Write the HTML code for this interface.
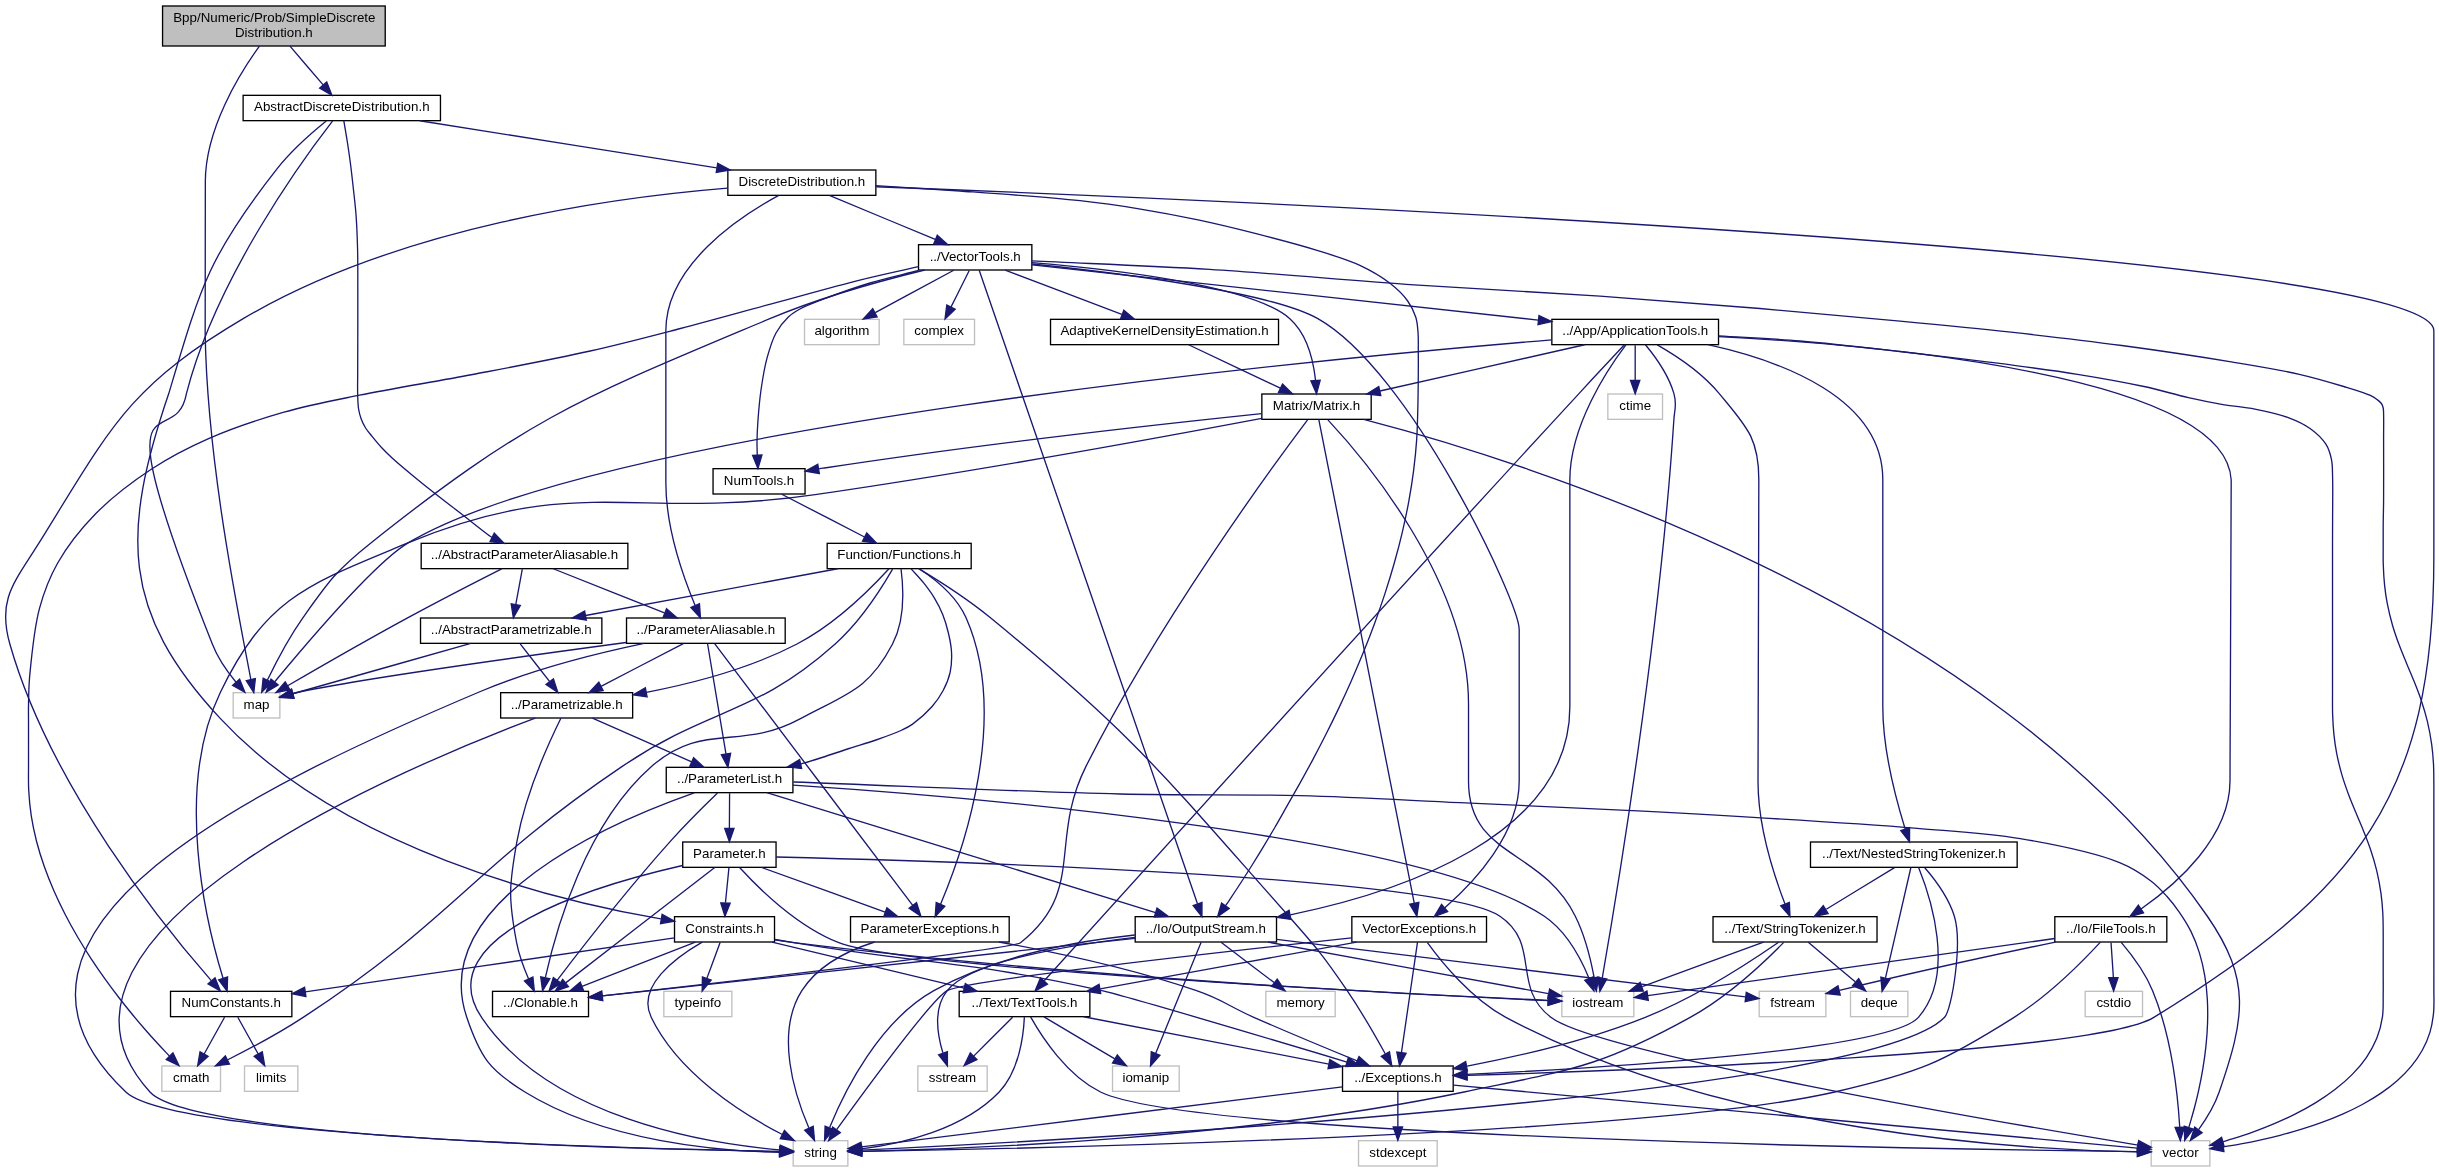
<!DOCTYPE html>
<html><head><meta charset="utf-8"><title>Include dependency graph</title>
<style>html,body{margin:0;padding:0;background:#fff}svg{display:block;will-change:transform}text{font-family:"Liberation Sans",sans-serif;font-size:13.33px;fill:#000}.e path{fill:none;stroke:#191970;stroke-width:1.33}.e polygon{fill:#191970;stroke:#191970;stroke-width:1.33}.n rect{stroke-width:1.33}</style></head>
<body>
<svg width="2439" height="1172" viewBox="0 0 2439 1172">
<rect x="0" y="0" width="2439" height="1172" fill="#fff"/>
<g class="n">
<rect x="162.55" y="6" width="222.67" height="40" fill="#bfbfbf" stroke="black"/>
<text text-anchor="start" x="173.22" y="22">Bpp/Numeric/Prob/SimpleDiscrete</text>
<text text-anchor="middle" x="273.89" y="36.67">Distribution.h</text>
<rect x="243.12" y="95.33" width="197.33" height="25.33" fill="white" stroke="black"/>
<text text-anchor="middle" x="341.79" y="111.33">AbstractDiscreteDistribution.h</text>
<rect x="233.19" y="692.67" width="46.67" height="25.33" fill="white" stroke="#bfbfbf"/>
<text text-anchor="middle" x="256.52" y="708.67">map</text>
<rect x="727.85" y="170" width="148" height="25.33" fill="white" stroke="black"/>
<text text-anchor="middle" x="801.85" y="186">DiscreteDistribution.h</text>
<rect x="674.52" y="916.67" width="100" height="25.33" fill="white" stroke="black"/>
<text text-anchor="middle" x="724.52" y="932.67">Constraints.h</text>
<rect x="421.19" y="543.33" width="206.67" height="25.33" fill="white" stroke="black"/>
<text text-anchor="middle" x="524.52" y="559.33">../AbstractParameterAliasable.h</text>
<rect x="918.52" y="244.67" width="113.33" height="25.33" fill="white" stroke="black"/>
<text text-anchor="middle" x="975.19" y="260.67">../VectorTools.h</text>
<rect x="1342.52" y="1066" width="110.67" height="25.33" fill="white" stroke="black"/>
<text text-anchor="middle" x="1397.85" y="1082">../Exceptions.h</text>
<rect x="170.52" y="991.33" width="121.33" height="25.33" fill="white" stroke="black"/>
<text text-anchor="middle" x="231.19" y="1007.33">NumConstants.h</text>
<rect x="1135.19" y="916.67" width="141.33" height="25.33" fill="white" stroke="black"/>
<text text-anchor="middle" x="1205.85" y="932.67">../Io/OutputStream.h</text>
<rect x="626.52" y="618" width="158.67" height="25.33" fill="white" stroke="black"/>
<text text-anchor="middle" x="705.85" y="634">../ParameterAliasable.h</text>
<rect x="1351.85" y="916.67" width="134.67" height="25.33" fill="white" stroke="black"/>
<text text-anchor="middle" x="1419.19" y="932.67">VectorExceptions.h</text>
<rect x="2151.19" y="1140.67" width="58.67" height="25.33" fill="white" stroke="#bfbfbf"/>
<text text-anchor="middle" x="2180.52" y="1156.67">vector</text>
<rect x="713.05" y="468.67" width="92" height="25.33" fill="white" stroke="black"/>
<text text-anchor="middle" x="759.05" y="484.67">NumTools.h</text>
<rect x="161.85" y="1066" width="58.67" height="25.33" fill="white" stroke="#bfbfbf"/>
<text text-anchor="middle" x="191.19" y="1082">cmath</text>
<rect x="1050.52" y="319.33" width="228" height="25.33" fill="white" stroke="black"/>
<text text-anchor="middle" x="1164.52" y="335.33">AdaptiveKernelDensityEstimation.h</text>
<rect x="1261.85" y="394" width="109.33" height="25.33" fill="white" stroke="black"/>
<text text-anchor="middle" x="1316.52" y="410">Matrix/Matrix.h</text>
<rect x="1551.85" y="319.33" width="166.67" height="25.33" fill="white" stroke="black"/>
<text text-anchor="middle" x="1635.19" y="335.33">../App/ApplicationTools.h</text>
<rect x="804.52" y="319.33" width="74.67" height="25.33" fill="white" stroke="#bfbfbf"/>
<text text-anchor="middle" x="841.85" y="335.33">algorithm</text>
<rect x="903.85" y="319.33" width="70.67" height="25.33" fill="white" stroke="#bfbfbf"/>
<text text-anchor="middle" x="939.19" y="335.33">complex</text>
<rect x="793.19" y="1140.67" width="54.67" height="25.33" fill="white" stroke="#bfbfbf"/>
<text text-anchor="middle" x="820.52" y="1156.67">string</text>
<rect x="959.19" y="991.33" width="130.67" height="25.33" fill="white" stroke="black"/>
<text text-anchor="middle" x="1024.52" y="1007.33">../Text/TextTools.h</text>
<rect x="1358.52" y="1140.67" width="78.67" height="25.33" fill="white" stroke="#bfbfbf"/>
<text text-anchor="middle" x="1397.85" y="1156.67">stdexcept</text>
<rect x="917.85" y="1066" width="69.33" height="25.33" fill="white" stroke="#bfbfbf"/>
<text text-anchor="middle" x="952.52" y="1082">sstream</text>
<rect x="1112.52" y="1066" width="66.67" height="25.33" fill="white" stroke="#bfbfbf"/>
<text text-anchor="middle" x="1145.85" y="1082">iomanip</text>
<rect x="827.19" y="543.33" width="144" height="25.33" fill="white" stroke="black"/>
<text text-anchor="middle" x="899.19" y="559.33">Function/Functions.h</text>
<rect x="666.25" y="767.33" width="126.67" height="25.33" fill="white" stroke="black"/>
<text text-anchor="middle" x="729.59" y="783.33">../ParameterList.h</text>
<rect x="850.52" y="916.67" width="158.67" height="25.33" fill="white" stroke="black"/>
<text text-anchor="middle" x="929.85" y="932.67">ParameterExceptions.h</text>
<rect x="492.52" y="991.33" width="96" height="25.33" fill="white" stroke="black"/>
<text text-anchor="middle" x="540.52" y="1007.33">../Clonable.h</text>
<rect x="500.65" y="692.67" width="132" height="25.33" fill="white" stroke="black"/>
<text text-anchor="middle" x="566.65" y="708.67">../Parametrizable.h</text>
<rect x="420.52" y="618" width="181.33" height="25.33" fill="white" stroke="black"/>
<text text-anchor="middle" x="511.19" y="634">../AbstractParametrizable.h</text>
<rect x="682.72" y="842" width="93.33" height="25.33" fill="white" stroke="black"/>
<text text-anchor="middle" x="729.39" y="858">Parameter.h</text>
<rect x="1561.85" y="991.33" width="72" height="25.33" fill="white" stroke="#bfbfbf"/>
<text text-anchor="middle" x="1597.85" y="1007.33">iostream</text>
<rect x="663.85" y="991.33" width="68" height="25.33" fill="white" stroke="#bfbfbf"/>
<text text-anchor="middle" x="697.85" y="1007.33">typeinfo</text>
<rect x="244.52" y="1066" width="53.33" height="25.33" fill="white" stroke="#bfbfbf"/>
<text text-anchor="middle" x="271.19" y="1082">limits</text>
<rect x="1759.19" y="991.33" width="66.67" height="25.33" fill="white" stroke="#bfbfbf"/>
<text text-anchor="middle" x="1792.52" y="1007.33">fstream</text>
<rect x="1265.85" y="991.33" width="69.33" height="25.33" fill="white" stroke="#bfbfbf"/>
<text text-anchor="middle" x="1300.52" y="1007.33">memory</text>
<rect x="2054.82" y="916.67" width="112" height="25.33" fill="white" stroke="black"/>
<text text-anchor="middle" x="2110.82" y="932.67">../Io/FileTools.h</text>
<rect x="1713.02" y="916.67" width="164" height="25.33" fill="white" stroke="black"/>
<text text-anchor="middle" x="1795.02" y="932.67">../Text/StringTokenizer.h</text>
<rect x="1810.49" y="842" width="206.67" height="25.33" fill="white" stroke="black"/>
<text text-anchor="middle" x="1913.82" y="858">../Text/NestedStringTokenizer.h</text>
<rect x="1607.85" y="394" width="54.67" height="25.33" fill="white" stroke="#bfbfbf"/>
<text text-anchor="middle" x="1635.19" y="410">ctime</text>
<rect x="2085.19" y="991.33" width="57.33" height="25.33" fill="white" stroke="#bfbfbf"/>
<text text-anchor="middle" x="2113.85" y="1007.33">cstdio</text>
<rect x="1850.52" y="991.33" width="57.33" height="25.33" fill="white" stroke="#bfbfbf"/>
<text text-anchor="middle" x="1879.19" y="1007.33">deque</text>
</g>
<g class="e">
<path d="M289.99,46.13C299.95,57.79 312.76,72.79 323.16,84.93"/><polygon points="326.75,81.96 331.88,95.12 319.67,88.04 326.75,81.96"/>
<path d="M259.46,46.08C239.37,73.96 205.49,128.72 205.34,181.33 205.34,181.33 205.34,181.33 205.17,333.33 207.18,464.79 239.72,620.05 250.79,679.33"/><polygon points="255.39,678.51 253.8,692.55 246.28,680.59 255.39,678.51"/>
<path d="M419.7,120.75C500.38,133.53 631.14,154.28 716.77,167.87"/><polygon points="717.71,163.28 730.15,169.97 716.24,172.51 717.71,163.28"/>
<path d="M326.25,121.04C312.23,132.36 291.39,150.52 276.61,169.33 208.49,255.93 200.53,287.09 168.84,393.33 121.55,532.6 120.49,611.2 220.46,718.67 341.11,848.6 554.64,900.43 660.84,918.91"/><polygon points="662.11,914.39 674.48,921.2 660.56,923.59 662.11,914.39"/>
<path d="M332.65,120.87C304.02,157.8 216.3,277.44 186.49,393.33 174.87,457.47 96.62,352.55 212.32,644 217.61,657.84 227.04,671.32 235.85,681.97"/><polygon points="239.63,679.2 244.88,692.32 232.59,685.33 239.63,679.2"/>
<path d="M343.8,120.7C345.03,128.13 346.37,135.67 347.5,143 348.6,150.1 349.55,156.62 350.5,164 351.56,172.2 352.57,181.46 353.5,190 354.4,198.28 355.34,205.57 356,214.5 356.79,225.23 357.29,237.81 357.6,250 357.92,262.93 357.77,276.67 357.8,290 357.83,303.33 357.82,316.67 357.8,330 357.78,343.33 357.71,358.1 357.7,370 357.69,379.6 357.45,388.82 357.7,396 357.88,401.08 357.94,404.98 358.6,409 359.18,412.58 360.02,415.81 361.2,419 362.36,422.14 363.82,425.14 365.6,428 367.43,430.95 369.7,433.43 372.1,436.4 374.91,439.87 378.16,443.91 381.5,447.5 384.92,451.18 387.84,454.05 392.4,458.2 399.39,464.57 409.76,473.15 419.9,481.4 432.06,491.29 448.01,503.5 460.6,513.3 471.46,521.75 487.65,534.7 491,536.8 491.61,537.18 491.77,537.18 492.16,537.38"/><polygon points="490.08,541.56 504.1,543.3 494.23,533.19"/>
<path d="M829.31,195.41C857.84,207.25 902.76,225.92 935.21,239.4"/><polygon points="937.32,235.23 947.84,244.64 933.75,243.84 937.32,235.23"/>
<path d="M876.21,186.73C1195.48,198.93 2433.85,251.37 2433.85,330.67 2433.85,330.67 2433.85,330.67 2433.85,557.33 2433.85,796.68 2357.69,891.91 2153.85,1017.33 2096.19,1052.81 1643.17,1070.01 1467.31,1075.4"/><polygon points="1467.11,1080.08 1453.64,1075.81 1466.83,1070.75 1467.11,1080.08"/>
<path d="M727.51,188.11C615.29,197.23 399.24,226.32 243.19,318.67 127.29,387.24 110.31,428.33 39.19,542.67 14.41,582.48 -2.95,598.89 9.85,644 50.23,786.31 164.87,927.53 211.29,980.64"/><polygon points="215,977.79 220.35,990.87 208.01,983.97 215,977.79"/>
<path d="M875.4,185.6C903.6,187.4 929.35,188.78 960,191 996.52,193.64 1047.07,197.11 1080,200.7 1103.16,203.22 1119.36,205.61 1139,208.8 1158.73,212.01 1178.46,215.73 1198.1,219.9 1217.82,224.09 1237.47,228.88 1257.1,233.9 1276.84,238.94 1298.02,244.43 1316.2,250.1 1332.09,255.06 1347.41,259.51 1360.4,265.6 1371.55,270.82 1381.72,276.85 1390,283.3 1397.05,288.8 1403.28,294.85 1407.7,301 1411.47,306.25 1414.09,311.87 1415.8,317.3 1417.34,322.2 1417.57,326.84 1418,332 1418.47,337.68 1418.26,342.5 1418.3,350 1418.37,362.5 1418.3,384.36 1418,400 1417.73,413.84 1417.52,426.83 1416.71,439.13 1415.99,450.13 1414.97,459.96 1413.64,470.34 1412.32,480.76 1410.65,491.17 1408.75,501.53 1406.85,511.91 1404.64,522.26 1402.22,532.55 1399.8,542.85 1397.1,553.11 1394.22,563.29 1391.35,573.47 1388.23,583.59 1384.95,593.62 1381.68,603.63 1378.2,613.58 1374.58,623.43 1370.97,633.23 1367.19,642.95 1363.29,652.57 1359.41,662.12 1355.38,671.58 1351.26,680.93 1347.18,690.19 1342.96,699.35 1338.68,708.39 1334.45,717.31 1330.11,726.13 1325.73,734.82 1321.41,743.36 1317.01,751.8 1312.58,760.09 1308.24,768.22 1303.8,776.22 1299.42,784.08 1295.15,791.74 1290.84,799.28 1286.64,806.67 1282.58,813.82 1278.64,820.87 1274.65,827.73 1270.81,834.35 1266.95,840.84 1263.15,847.14 1259.51,853.18 1255.87,859.08 1252.31,864.77 1248.92,870.18 1245.88,874.98 1242.3,880.5 1238.26,886.73 1232.29,895.72 1229.24,900.26 1227.63,902.67 1226.75,903.93 1225.5,905.76"/><polygon points="1229.23,908.57 1217.62,916.63 1221.59,903.09 1229.23,908.57"/>
<path d="M778.77,195.4C739.97,216.37 665.85,265.04 665.85,330.67 665.85,330.67 665.85,330.67 665.85,482.67 665.85,527.15 683.19,576.63 695.03,605.24"/><polygon points="699.47,603.75 700.45,617.84 690.89,607.44 699.47,603.75"/>
<path d="M1032.17,264.01C1116.55,272.71 1269.88,291.67 1317.85,318.67 1410.6,370.88 1519.19,602.11 1519.19,629.33 1519.19,629.33 1519.19,629.33 1519.19,781.33 1519.19,834.08 1474.49,881.84 1444.87,907.72"/><polygon points="1447.59,911.53 1434.37,916.53 1441.57,904.39 1447.59,911.53"/>
<path d="M1031.7,260.9C1090.97,263.73 1148.17,265.63 1209.5,269.4 1275.36,273.45 1347.6,280.25 1414.2,284.8 1477.62,289.13 1540.4,292.08 1600,296.2 1655.34,300.02 1708.46,304.2 1760,308.5 1808.24,312.52 1856.06,316.92 1900,321.1 1939.13,324.82 1973.95,328.14 2010.9,332.2 2047.89,336.27 2084.87,340.52 2121.8,345.5 2158.8,350.49 2200.46,356.74 2232.7,362.1 2257.75,366.27 2279.43,369.76 2299.3,374.3 2315.69,378.04 2330.83,382.58 2343.7,386.5 2353.74,389.56 2364.47,392.68 2370.3,395.4 2373.38,396.84 2375.06,398.04 2377,399.5 2378.69,400.77 2380.35,401.99 2381.4,403.5 2382.34,404.86 2382.83,406.36 2383.2,408 2383.62,409.83 2383.51,411.3 2383.6,414 2383.79,419.62 2383.6,429.55 2383.6,440 2383.6,455.88 2383.73,484.19 2383.6,500 2383.52,510.33 2383.25,517.56 2383.19,525.63 2383.13,532.87 2383.17,539.53 2383.19,546.22 2383.2,552.56 2383.06,558.42 2383.28,564.75 2383.51,571.44 2383.9,578.68 2384.61,585.33 2385.27,591.64 2386.07,597.35 2387.3,603.71 2388.65,610.69 2390.54,618.48 2392.57,625.51 2394.53,632.26 2396.85,638.71 2399.22,645.1 2401.54,651.36 2404.12,657.38 2406.62,663.48 2409.11,669.55 2411.75,675.49 2414.18,681.62 2416.64,687.82 2419.12,694.01 2421.28,700.48 2423.51,707.15 2425.61,713.94 2427.31,721.06 2429.1,728.53 2430.64,736.85 2431.68,744.32 2432.63,751.16 2433.13,757.66 2433.49,764.12 2433.83,770.28 2433.79,775.97 2433.85,782.21 2433.92,788.89 2433.85,796.21 2433.85,802.96 2433.85,809.38 2433.85,815.46 2433.85,821.76 2433.85,828.11 2433.85,834.16 2433.85,840.91 2433.85,848.49 2433.85,857.47 2433.85,865.04 2433.85,871.79 2433.85,877.59 2433.85,884.18 2433.85,891.2 2433.85,898.47 2433.85,905.94 2433.85,913.89 2433.85,922.09 2433.85,930.52 2433.85,939.44 2433.85,948.63 2433.85,958.06 2433.85,968.02 2433.9,979.19 2433.85,988.75 2433.81,997.15 2434.33,1004.9 2433.6,1012.42 2432.92,1019.37 2431.84,1025.96 2429.92,1032.32 2428.04,1038.56 2425.39,1044.59 2422.27,1050.26 2419.14,1055.94 2415.33,1061.31 2411.17,1066.35 2406.96,1071.46 2402.16,1076.22 2397.13,1080.68 2392.01,1085.23 2386.42,1089.42 2380.67,1093.36 2374.82,1097.36 2368.61,1101.02 2362.3,1104.47 2355.91,1107.95 2349.25,1111.14 2342.54,1114.12 2335.79,1117.12 2328.85,1119.85 2321.9,1122.4 2314.97,1124.95 2307.92,1127.27 2300.9,1129.43 2293.97,1131.56 2286.97,1133.49 2280.06,1135.28 2273.3,1137.03 2266.52,1138.62 2259.88,1140.07 2253.47,1141.48 2247.08,1142.74 2240.89,1143.89 2235,1144.99 2229.36,1145.86 2223.6,1146.84"/><polygon points="2223.93,1151.51 2210.07,1148.81 2222.59,1142.27 2223.93,1151.51"/>
<path d="M918.5,270.5C902.33,274.67 885.8,278.24 870,283 854.55,287.66 837.46,293.83 824.7,298.7 815.16,302.34 806.52,305.48 800,309 795.32,311.52 792.23,313.29 788.6,316.7 784.15,320.87 779.47,326.66 776,333 772.05,340.22 769.44,349.21 767,358.2 764.32,368.09 762.51,379.52 761,390 759.54,400.11 758.67,410.91 758,420 757.44,427.55 757.11,434.48 757.01,440.77 756.93,445.98 757.17,450.32 757.25,455.09"/><polygon points="761.92,454.99 757.95,468.55 752.6,455.47 761.92,454.99"/>
<path d="M918.5,266.6C899.27,271 882.12,274.49 860.8,279.8 834.02,286.47 800.66,295.98 770.6,304.1 740.53,312.22 710.51,320.67 680.4,328.5 650.37,336.31 622.34,343.78 590.2,351 553.71,359.2 511.53,367.07 472.7,374.5 434.65,381.78 393.36,388.29 359.5,395.2 331.73,400.86 308.95,405.05 284,412.2 258.65,419.47 231.58,428.52 208.6,438.6 188.01,447.64 170.33,456.74 152,468.8 132.53,481.62 111.53,497.58 95.4,514 80.5,529.17 67.23,546.31 57.7,563 49.23,577.85 44.05,591.52 39.5,608.4 34.17,628.19 31.46,657.29 29.79,674.97 28.69,686.6 28.71,695.36 28.52,704 28.37,710.97 28.52,716.44 28.52,722.88 28.52,729.63 28.52,736.62 28.52,743.59 28.52,750.72 28.49,757.75 28.52,765.21 28.55,773.19 28.26,781.66 28.7,790 29.15,798.54 29.95,807.31 31.27,815.88 32.58,824.47 34.42,833.02 36.59,841.46 38.76,849.92 41.39,858.31 44.29,866.57 47.19,874.84 50.49,883.02 54,891.05 57.5,899.07 61.33,906.98 65.33,914.74 69.3,922.45 73.55,930.04 77.91,937.47 82.23,944.82 86.76,952.03 91.37,959.07 95.9,966 100.59,972.79 105.32,979.39 109.94,985.84 114.67,992.15 119.39,998.26 123.97,1004.18 128.62,1009.95 133.21,1015.52 137.62,1020.85 142.06,1026.04 146.4,1030.99 150.51,1035.69 154.62,1040.23 158.58,1044.53 162.26,1048.52 165.77,1052.15 169.37,1055.96"/><polygon points="172.91,1052.89 178.96,1065.65 166.27,1059.45 172.91,1052.89"/>
<path d="M979.19,270.28C1006.01,348.12 1159.69,794.07 1197.47,903.67"/><polygon points="1201.99,902.45 1201.91,916.59 1193.16,905.49 1201.99,902.45"/>
<path d="M924.71,270C882.45,280.29 821.03,297.15 769.85,318.67 582.51,397.45 530.23,416.13 371.19,542.67 336.05,570.61 329.12,580.71 303.19,617.33 289.01,637.33 276.07,662.13 267.43,680.07"/><polygon points="271.6,682.17 261.71,692.25 263.15,678.2 271.6,682.17"/>
<path d="M1005.19,270.08C1036.61,282.03 1086.28,300.92 1121.8,314.43"/><polygon points="1123.85,310.21 1134.65,319.31 1120.53,318.93 1123.85,310.21"/>
<path d="M1032.05,262.56C1112.15,269.17 1252.56,285.28 1289.85,318.67 1307.23,334.23 1313.43,360.83 1315.56,380.45"/><polygon points="1320.21,380.19 1316.52,393.81 1310.91,380.85 1320.21,380.19"/>
<path d="M1032.03,264.87C1144.89,277.19 1398.43,304.84 1538.17,320.08"/><polygon points="1538.99,315.48 1551.75,321.56 1537.99,324.76 1538.99,315.48"/>
<path d="M953.76,270.24C932.57,281.68 899.84,299.35 875.24,312.64"/><polygon points="877.16,316.89 863.21,319.13 872.73,308.68 877.16,316.89"/>
<path d="M969.24,270.56C964.31,280.41 957.15,294.73 951.05,306.92"/><polygon points="955.15,309.16 945.01,319 946.8,304.99 955.15,309.16"/>
<path d="M1417.51,942.17C1414.07,965.84 1406.12,1020.44 1401.45,1052.53"/><polygon points="1406.05,1053.36 1399.51,1065.88 1396.81,1052.01 1406.05,1053.36"/>
<path d="M1427.25,942.37C1441.01,961.37 1470.95,998.67 1505.85,1017.33 1722.27,1133.11 2025.96,1149.79 2137.36,1151.87"/><polygon points="2137.61,1147.2 2150.88,1152.05 2137.48,1156.53 2137.61,1147.2"/>
<path d="M1351.63,937.89C1225.33,951.57 964.56,980.81 947.19,990.67 932.17,999.17 867.25,1087.32 836.63,1129.6"/><polygon points="840.23,1132.59 828.64,1140.67 832.65,1127.12 840.23,1132.59"/>
<path d="M1356.64,942.08C1287.08,954.77 1174.68,975.27 1100.2,988.85"/><polygon points="1100.71,993.51 1086.76,991.31 1099.04,984.33 1100.71,993.51"/>
<path d="M1397.85,1091.89C1397.85,1101.32 1397.85,1114.85 1397.85,1126.68"/><polygon points="1402.52,1127 1397.85,1140.33 1393.19,1127 1402.52,1127"/>
<path d="M1453.51,1085.12C1601.93,1098.77 2004.91,1135.84 2137.55,1148.05"/><polygon points="2138.09,1143.41 2150.95,1149.28 2137.24,1152.71 2138.09,1143.41"/>
<path d="M1342.49,1086.91C1227.12,1101.29 963.25,1134.2 861.55,1146.88"/><polygon points="862.11,1151.52 848.29,1148.53 860.95,1142.25 862.11,1151.52"/>
<path d="M1083.67,1016.75C1150.31,1029.6 1258.48,1050.45 1328.89,1064.04"/><polygon points="1329.81,1059.45 1342.01,1066.56 1328.04,1068.63 1329.81,1059.45"/>
<path d="M1030.59,1016.95C1041.56,1036.51 1066.69,1075.53 1100.52,1092 1194.81,1137.92 1947.17,1149.39 2137.09,1151.56"/><polygon points="2137.49,1146.91 2150.77,1151.72 2137.39,1156.24 2137.49,1146.91"/>
<path d="M1024.37,1017.11C1023.51,1035.53 1019.17,1071.2 999.19,1092 962.88,1129.77 902.09,1143.77 861.65,1148.95"/><polygon points="862.04,1153.6 848.27,1150.44 861,1144.33 862.04,1153.6"/>
<path d="M1012.63,1017.23C1002.13,1027.71 986.6,1043.24 973.96,1055.89"/><polygon points="976.91,1059.53 964.19,1065.67 970.31,1052.93 976.91,1059.53"/>
<path d="M1044.01,1016.91C1063.11,1028.24 1092.53,1045.69 1114.84,1058.93"/><polygon points="1117.32,1054.97 1126.4,1065.8 1112.55,1063 1117.32,1054.97"/>
<path d="M781.76,494.24C804.09,505.79 838.72,523.68 864.51,537"/><polygon points="866.77,532.92 876.53,543.13 862.53,541.23 866.77,532.92"/>
<path d="M918.72,568.68C937.63,580.03 966.75,598.47 989.85,617.33 1135.23,736.11 1163.93,775.57 1288.52,916 1316.52,947.57 1323.44,955.77 1347.19,990.67 1361.24,1011.33 1375.45,1036.05 1385.23,1053.79"/><polygon points="1389.49,1051.87 1391.77,1065.81 1381.29,1056.32 1389.49,1051.87"/>
<path d="M911.2,568.88C915.35,573.56 919.78,578.07 923.65,582.93 927.47,587.74 931.13,592.63 934.3,597.87 937.49,603.14 940.39,608.68 942.72,614.47 945.1,620.37 946.93,626.68 948.39,632.98 949.88,639.34 951.26,645.92 951.55,652.46 951.84,659.02 951.55,665.89 950.13,672.27 948.71,678.64 946.08,684.95 943.02,690.72 939.98,696.44 936.45,701.56 931.87,706.76 926.6,712.74 918.28,720.04 912.6,724.1 908.72,726.87 906.4,727.94 902,730 895.33,733.12 884.79,736.92 876,740 867.16,743.09 858.07,745.59 849.1,748.5 840.07,751.43 830.46,754.8 822,757.5 814.6,759.86 802.95,763.41 801.1,763.9 800.82,763.97 800.78,763.97 800.61,764.01"/><polygon points="799.6,759.45 787.6,766.9 801.62,768.56"/>
<path d="M919.12,568.71C935.09,579.07 956.35,596 965.85,617.33 1010.05,716.59 963.15,850.51 940.56,904.24"/><polygon points="944.77,906.28 935.17,916.64 936.21,902.56 944.77,906.28"/>
<path d="M901.03,568.77C903.25,586.13 905.27,619.68 892.52,644 868.07,690.64 846.81,693.59 800.52,718.67 739.21,751.87 703.52,720.61 651.19,766.67 585.57,824.4 555.97,929.31 545.39,977.39"/><polygon points="549.88,978.75 542.6,990.87 540.73,976.85 549.88,978.75"/>
<path d="M892.6,569.19C882.21,587.09 860.59,621.35 835.19,644 753.56,716.8 712.47,705.44 621.85,766.67 472.53,867.55 453.99,918.71 303.19,1017.33 278.95,1033.17 250.13,1048.55 227.79,1059.76"/><polygon points="229.49,1064.13 215.47,1065.85 225.35,1055.76 229.49,1064.13"/>
<path d="M889,568.76C871.91,587.33 835.41,624.05 797.01,644 750.02,668.41 692.26,683.43 646.36,692.33"/><polygon points="647.08,696.95 633.12,694.8 645.37,687.77 647.08,696.95"/>
<path d="M837.71,568.75C769.31,581.44 658.81,601.93 585.59,615.52"/><polygon points="586.33,620.13 572.37,617.97 584.63,610.96 586.33,620.13"/>
<path d="M793.3,782C902.23,786 1027.29,791.86 1120.1,794 1188.94,795.59 1241.84,794.17 1300,795.7 1354.8,797.14 1404.55,800.12 1459.6,802.6 1518.61,805.26 1575.75,807.53 1643,811.2 1725.28,815.69 1847.88,822.66 1917.3,828.3 1959.88,831.76 1986.39,832.85 2020.2,838.6 2053.82,844.31 2096.17,853.14 2119.6,862.6 2133.63,868.27 2142.88,874.82 2151.25,881.17 2157.63,886.02 2161.9,890.84 2166.58,896.01 2171.08,900.98 2174.97,905.93 2178.87,911.54 2183.08,917.58 2187.41,924.3 2190.82,931.16 2194.26,938.07 2197.09,945.44 2199.41,952.85 2201.73,960.29 2203.43,968.01 2204.75,975.73 2206.08,983.48 2206.85,991.4 2207.32,999.26 2207.79,1007.12 2207.8,1015.06 2207.56,1022.9 2207.33,1030.68 2206.73,1038.47 2205.94,1046.12 2205.17,1053.62 2204.1,1061.09 2202.91,1068.36 2201.75,1075.41 2200.37,1082.38 2198.92,1089.09 2197.54,1095.5 2196.09,1101.49 2194.44,1107.78 2192.73,1114.26 2190.7,1120.88 2188.83,1127.43"/><polygon points="2193.2,1129.07 2184.69,1140.35 2184.31,1126.23 2193.2,1129.07"/>
<path d="M694.21,792.83C613.74,821.16 427.16,900.63 466.75,1017.33 480.28,1057.21 489.14,1069.85 524.92,1092 605.16,1141.67 719.24,1151.12 779.51,1152.39"/><polygon points="779.65,1147.72 792.93,1152.55 779.55,1157.05 779.65,1147.72"/>
<path d="M729.59,793.23C729.53,802.65 729.45,816.19 729.39,828.01"/><polygon points="734.05,828.33 729.39,841.67 724.72,828.33 734.05,828.33"/>
<path d="M792.99,785.13C962.3,796.32 1420.85,833.64 1543.96,916 1566.18,930.87 1580.84,958.39 1589.12,978.43"/><polygon points="1593.48,976.76 1594,990.88 1584.79,980.17 1593.48,976.76"/>
<path d="M717.52,792.95C705.23,804.79 685.92,823.84 670.3,841.33 627.54,889.13 581.27,948.57 557.11,980.28"/><polygon points="560.83,983.09 549.12,990.99 553.35,977.52 560.83,983.09"/>
<path d="M766.75,792.72C851.4,818.81 1059.51,882.97 1155.52,912.57"/><polygon points="1157,908.15 1168.37,916.52 1154.27,917.08 1157,908.15"/>
<path d="M776.08,857.01C933.69,860.77 1439.64,875.89 1499.6,916 1541.52,944.04 1510.86,986.56 1550.83,1017.33 1597.98,1053.65 2004.21,1123.03 2137.96,1145.08"/><polygon points="2138.72,1140.48 2151.12,1147.24 2137.21,1149.69 2138.72,1140.48"/>
<path d="M682.51,865.51C596.31,885.17 426.53,935.44 481.55,1017.33 549.14,1117.97 705.49,1143.4 779.83,1149.83"/><polygon points="780.2,1145.17 793.13,1150.85 779.49,1154.48 780.2,1145.17"/>
<path d="M761.49,867.41C794.85,879.47 847.71,898.59 885.12,912.11"/><polygon points="886.88,907.79 897.88,916.64 883.76,916.57 886.88,907.79"/>
<path d="M728.93,867.89C727.99,877.32 726.64,890.85 725.45,902.68"/><polygon points="730.11,903.19 724.95,916.33 720.77,902.84 730.11,903.19"/>
<path d="M739.61,867.57C757.33,887.08 796.33,926.01 838.81,942.67 904.29,968.35 1389.78,992.99 1548.07,1000.4"/><polygon points="1548.39,995.75 1561.49,1001.03 1547.96,1005.07 1548.39,995.75"/>
<path d="M714.73,867.51C682.5,892.47 605.85,951.8 565.68,982.89"/><polygon points="568.47,986.64 555.09,991.21 562.69,979.31 568.47,986.64"/>
<path d="M998.92,942C1053.41,951.95 1130.93,968.32 1196.52,990.67 1223.12,999.73 1228.13,1006 1253.85,1017.33 1288.45,1032.59 1328.13,1049.04 1357.08,1060.87"/><polygon points="1358.97,1056.59 1369.56,1065.95 1355.45,1065.24 1358.97,1056.59"/>
<path d="M874.55,942C847.73,950.59 817.91,965.4 801.85,990.67 774.97,1032.93 794.39,1094.21 808.79,1127.77"/><polygon points="813.21,1126.27 814.49,1140.33 804.72,1130.13 813.21,1126.27"/>
<path d="M774.87,939.48C781.25,940.57 787.69,941.65 793.85,942.67 930.55,965.15 966.64,960.47 1101.85,990.67 1125.93,996.04 1268.8,1038.61 1346.91,1062.03"/><polygon points="1348.35,1057.59 1359.77,1065.88 1345.67,1066.52 1348.35,1057.59"/>
<path d="M702.17,942.13C675.51,957.51 636.28,986.44 651.19,1017.33 678.24,1073.44 741.31,1113.37 782.37,1134.53"/><polygon points="784.49,1130.37 794.35,1140.49 780.33,1138.73 784.49,1130.37"/>
<path d="M772.05,942.08C824.05,954.56 907.53,974.59 964.13,988.17"/><polygon points="965.32,983.67 977.2,991.31 963.15,992.73 965.32,983.67"/>
<path d="M774.79,939.96C781.19,940.97 787.67,941.91 793.85,942.67 1078.09,977.79 1421.59,995.09 1548.03,1000.63"/><polygon points="1548.55,995.99 1561.67,1001.21 1548.15,1005.31 1548.55,995.99"/>
<path d="M720.11,942.56C716.53,952.2 711.39,966.12 706.93,978.13"/><polygon points="711.17,980.12 702.17,991 702.43,976.88 711.17,980.12"/>
<path d="M695.36,942.08C664.81,954.03 616.55,972.92 582.03,986.43"/><polygon points="583.65,990.8 569.53,991.31 580.25,982.11 583.65,990.8"/>
<path d="M674.49,937.96C587.28,950.69 407.01,977 305.27,991.85"/><polygon points="305.92,996.48 292.05,993.79 304.57,987.24 305.92,996.48"/>
<path d="M224.57,1017.23C219.04,1027.19 210.97,1041.71 204.16,1053.97"/><polygon points="208.21,1056.28 197.67,1065.67 200.05,1051.75 208.21,1056.28"/>
<path d="M237.79,1017.23C243.32,1027.19 251.39,1041.71 258.2,1053.97"/><polygon points="262.31,1051.75 264.69,1065.67 254.15,1056.28 262.31,1051.75"/>
<path d="M1134.8,935.03C1077.45,941.12 996.29,955.71 933.85,990.67 879.27,1021.23 844.85,1090.36 829.64,1127.43"/><polygon points="833.79,1129.61 824.59,1140.33 825.09,1126.21 833.79,1129.61"/>
<path d="M1134.96,937.32C1066.63,945.37 970.27,961.61 947.19,990.67 933.43,1007.97 937.17,1033.88 942.89,1052.87"/><polygon points="947.41,1051.65 947.39,1065.77 938.6,1054.72 947.41,1051.65"/>
<path d="M1201.13,942.17C1191.37,966.05 1168.72,1021.44 1155.64,1053.4"/><polygon points="1159.91,1055.31 1150.53,1065.88 1151.27,1051.77 1159.91,1055.31"/>
<path d="M1267.96,942.08C1345.68,956.35 1477.2,980.51 1548.44,993.59"/><polygon points="1549.57,989.05 1561.84,996.05 1547.89,998.24 1549.57,989.05"/>
<path d="M1134.92,938.33C1029.44,949.73 824.99,971.84 651.19,990.67 635.43,992.37 618.41,994.21 602.56,995.93"/><polygon points="602.76,1000.61 589,997.41 601.75,991.33 602.76,1000.61"/>
<path d="M1276.61,939.35C1397.99,954.25 1642.69,984.28 1745.43,996.89"/><polygon points="1746.28,992.29 1758.95,998.55 1745.15,1001.56 1746.28,992.29"/>
<path d="M1221.05,942.24C1235.32,953.09 1256.97,969.55 1274.07,982.55"/><polygon points="1277.24,979.11 1285.03,990.89 1271.59,986.53 1277.24,979.11"/>
<path d="M535.21,718.05C415.76,762.85 4.27,932.36 149.96,1092 192.45,1138.55 640.06,1149.25 779.37,1151.47"/><polygon points="779.71,1146.81 792.97,1151.68 779.57,1156.15 779.71,1146.81"/>
<path d="M592.43,718.08C619.15,729.87 661.17,748.41 691.68,761.88"/><polygon points="693.63,757.65 703.93,767.31 689.85,766.19 693.63,757.65"/>
<path d="M560.87,718.17C549.68,740.96 525.53,793.77 516.94,841.33 508.94,885.68 508.25,898.44 516.63,942.67 518.98,955.07 523.87,968.15 528.6,978.93"/><polygon points="532.89,977.07 534.36,991.12 524.45,981.05 532.89,977.07"/>
<path d="M520.21,643.89C528.15,654.05 539.8,668.99 549.51,681.41"/><polygon points="553.45,678.89 557.8,692.33 546.01,684.53 553.45,678.89"/>
<path d="M470.83,643.41C421.81,657.27 339.85,680.44 292.76,693.75"/><polygon points="294,698.25 279.91,697.39 291.47,689.27 294,698.25"/>
<path d="M1188.6,344.75C1213.28,356.43 1251.96,374.75 1280.32,388.19"/><polygon points="1282.49,384.05 1292.55,393.97 1278.49,392.49 1282.49,384.05"/>
<path d="M1318.76,419.35C1331.59,484.35 1395.85,809.85 1414.25,903.04"/><polygon points="1418.88,902.37 1416.88,916.36 1409.72,904.19 1418.88,902.37"/>
<path d="M1363.59,419.37C1514.76,458.57 1990.63,603.13 2207.19,916 2251.8,980.47 2244.64,1017.84 2219.19,1092 2214.56,1105.45 2206.31,1118.91 2198.61,1129.65"/><polygon points="2202.16,1132.69 2190.37,1140.49 2194.72,1127.05 2202.16,1132.69"/>
<path d="M1261.61,413.57C1170.57,423.09 982.48,443.8 824.37,468 822.64,468.27 820.89,468.53 819.12,468.83"/><polygon points="819.31,473.52 805.39,471.13 817.76,464.32 819.31,473.52"/>
<path d="M1327.93,419.84C1363.29,457.75 1468.52,580.95 1468.52,704 1468.52,704 1468.52,704 1468.52,781.33 1468.52,857.68 1541.09,847.68 1575.19,916 1584.95,935.57 1590.83,959.79 1594.13,977.65"/><polygon points="1598.76,976.99 1596.35,990.91 1589.55,978.52 1598.76,976.99"/>
<path d="M1307.55,419.81C1274.53,463.72 1158,622.29 1085.85,766.67 1048.55,841.31 1085.92,890.87 1020.52,942.67 1012.36,949.12 729.59,981.49 601.95,995.83"/><polygon points="602.4,1000.47 588.63,997.32 601.36,991.19 602.4,1000.47"/>
<path d="M1261.77,418.45C1169.77,435.8 978.2,470.97 815.19,494.67 635.08,520.84 576.53,472.73 408.52,542.67 310,583.67 266.91,595.91 220.52,692 173.67,789.05 206.39,923.72 223.05,978.28"/><polygon points="227.56,977.04 227.16,991.17 218.67,979.88 227.56,977.04"/>
<path d="M1718.7,335.8C1745.8,337.53 1771.52,338.6 1800,341 1831.64,343.67 1867.68,347.87 1900,351.5 1930.47,354.92 1959.14,358.3 1988.7,362.1 2018.31,365.9 2050.08,369.9 2077.5,374.3 2101.31,378.12 2124.13,382.2 2144,386.5 2160.35,390.04 2174.63,394.5 2188.4,397.6 2200.26,400.27 2210.58,402.38 2221.7,404.3 2232.75,406.21 2243.88,406.9 2254.9,409.1 2266.05,411.32 2278.39,413.94 2288.2,417.6 2296.53,420.71 2303.98,424.07 2310.4,428.7 2316.43,433.05 2322.35,438.61 2325.9,444.2 2328.98,449.05 2330.38,454.27 2331.5,459.7 2332.67,465.35 2332.38,470.29 2332.6,477.5 2332.94,488.63 2332.62,508.11 2332.6,520 2332.58,528.61 2332.53,534.68 2332.52,542.25 2332.51,550.13 2332.52,558.8 2332.52,566.38 2332.52,573.12 2332.52,578.93 2332.52,585.51 2332.52,592.53 2332.52,599.8 2332.52,607.28 2332.52,615.22 2332.52,623.42 2332.52,631.85 2332.52,640.77 2332.52,649.97 2332.52,659.4 2332.52,669.35 2332.5,680.49 2332.52,690.09 2332.54,698.58 2332.35,706.4 2332.61,714.09 2332.86,721.21 2333.24,728.01 2333.94,734.66 2334.6,740.98 2335.4,746.68 2336.63,753.04 2337.99,760.03 2339.87,767.81 2341.91,774.84 2343.86,781.59 2346.18,788.04 2348.55,794.44 2350.87,800.7 2353.46,806.72 2355.95,812.82 2358.44,818.89 2361.08,824.82 2363.51,830.95 2365.97,837.15 2368.45,843.35 2370.61,849.81 2372.84,856.48 2374.94,863.28 2376.65,870.39 2378.44,877.86 2379.97,886.19 2381.01,893.65 2381.96,900.5 2382.46,906.95 2382.82,913.45 2383.17,919.75 2383.12,925.78 2383.19,932.08 2383.25,938.55 2383.19,945.22 2383.19,951.78 2383.19,958.34 2383.19,964.63 2383.19,971.42 2383.19,978.76 2383.31,986.71 2383.19,994.3 2383.06,1001.84 2383.52,1009.47 2382.45,1016.81 2381.39,1024.07 2379.53,1031.35 2376.87,1038.11 2374.22,1044.84 2370.59,1051.26 2366.52,1057.28 2362.41,1063.37 2357.48,1069.06 2352.27,1074.41 2346.97,1079.84 2341.05,1084.85 2334.95,1089.57 2328.77,1094.35 2322.14,1098.74 2315.42,1102.86 2308.67,1107 2301.61,1110.8 2294.54,1114.35 2287.52,1117.89 2280.3,1121.12 2273.15,1124.14 2266.15,1127.1 2259.05,1129.8 2252.11,1132.31 2245.42,1134.72 2237.63,1137.23 2232.26,1138.93 2228.62,1140.08 2226.12,1140.77 2223.05,1141.69"/><polygon points="2224.08,1146.25 2209.99,1145.29 2221.6,1137.25 2224.08,1146.25"/>
<path d="M1624.4,344.8C1613.09,356.84 1594.83,376.36 1579.19,393.33 1368.49,621.92 1115.81,901.51 1044.25,980.79"/><polygon points="1047.43,984.23 1035.04,991 1040.51,977.97 1047.43,984.23"/>
<path d="M1645.41,344.72C1654.88,356.09 1668.32,374.55 1673.85,393.33 1677.19,404.71 1674.61,408.17 1673.85,420 1659.72,637.57 1616.21,897.97 1602.23,978.04"/><polygon points="1606.81,978.89 1599.91,991.23 1597.63,977.28 1606.81,978.89"/>
<path d="M1626.09,344.72C1608.15,368.41 1569.85,425.36 1569.85,480 1569.85,480 1569.85,480 1569.85,706.67 1569.85,836.81 1397.85,892.63 1290.32,914.79"/><polygon points="1290.88,919.44 1276.89,917.45 1289.07,910.28 1290.88,919.44"/>
<path d="M1551.69,339.83C1308.33,359.96 604.44,427 408.52,542.67 376.84,561.36 307.73,642.08 274.75,681.77"/><polygon points="278.19,684.93 266.11,692.24 271,678.99 278.19,684.93"/>
<path d="M1584.68,344.75C1529.21,357.28 1440.03,377.43 1379.89,391.01"/><polygon points="1380.8,395.59 1366.77,393.97 1378.75,386.49 1380.8,395.59"/>
<path d="M1718.68,336.55C1880.88,345.16 2225.89,375.71 2231.2,480 2231.2,480 2231.2,480 2230,781.33 2229.77,837.53 2176.27,884.29 2141.01,909.01"/><polygon points="2143.54,912.93 2129.87,916.53 2138.31,905.2 2143.54,912.93"/>
<path d="M1657.27,344.81C1675.77,355.36 1701.85,372.49 1719.06,393.33 1746.01,426.01 1758.94,437.57 1758.82,480 1758.82,480 1758.82,480 1758.02,781.33 1757.9,825.61 1773.94,875.16 1784.91,903.84"/><polygon points="1789.35,902.36 1789.98,916.47 1780.69,905.83 1789.35,902.36"/>
<path d="M1707.92,344.69C1781.06,360.73 1883.03,397.84 1882.8,480 1882.8,480 1882.8,480 1882.8,706.67 1882.82,750.59 1896.28,800.24 1905.17,829.05"/><polygon points="1909.61,827.61 1909.51,841.73 1900.78,830.63 1909.61,827.61"/>
<path d="M1635.19,345.23C1635.19,354.65 1635.19,368.19 1635.19,380.01"/><polygon points="1639.85,380.33 1635.19,393.67 1630.52,380.33 1639.85,380.33"/>
<path d="M2121.06,942.16C2130.78,953.63 2144.95,972.13 2152.6,990.67 2171.54,1036.57 2177.73,1094.8 2179.76,1127.25"/><polygon points="2184.43,1127.08 2180.32,1140.59 2175.09,1127.47 2184.43,1127.08"/>
<path d="M2100.42,942.12C2083.74,960.12 2049.17,995.2 2014.1,1017.33 1941.1,1063.36 1918.95,1072.59 1834.7,1092 1645.17,1135.69 1027.94,1148.65 861.95,1151.39"/><polygon points="861.57,1156.07 848.17,1151.61 861.43,1146.73 861.57,1156.07"/>
<path d="M2054.75,938.51C1954.11,952.65 1743.81,982.19 1647.79,995.68"/><polygon points="1648.27,1000.32 1634.43,997.55 1646.97,991.08 1648.27,1000.32"/>
<path d="M2055.41,942.03C2003.03,953.01 1921.67,970.51 1839.45,990.39"/><polygon points="1840.2,995 1826.13,993.59 1838.01,985.93 1840.2,995"/>
<path d="M2111.03,942.56C2111.67,951.99 2112.58,965.52 2113.37,977.35"/><polygon points="2118.05,977.59 2113.63,991 2108.72,977.76 2118.05,977.59"/>
<path d="M1778.63,942.2C1752.02,960.6 1696.85,996.64 1645.26,1017.33 1587.25,1040.6 1517.71,1056.48 1467.17,1066.04"/><polygon points="1467.37,1070.75 1453.41,1068.57 1465.68,1061.57 1467.37,1070.75"/>
<path d="M1783.77,942.39C1765.7,960.73 1728.23,996.32 1690.22,1017.33 1597.67,1068.49 1567.77,1070.35 1464.09,1092 1240.27,1138.73 964.69,1149.08 861.81,1151.36"/><polygon points="861.89,1156.03 848.47,1151.64 861.69,1146.69 861.89,1156.03"/>
<path d="M1763.54,942.08C1730.81,954.08 1679.02,973.08 1642.17,986.6"/><polygon points="1643.31,991.16 1629.17,991.31 1640.12,982.39 1643.31,991.16"/>
<path d="M1808.3,942.24C1820.92,952.88 1839.94,968.92 1855.21,981.8"/><polygon points="1858.67,978.61 1865.65,990.89 1852.53,985.65 1858.67,978.61"/>
<path d="M1918.63,867.56C1930.37,896.8 1956.1,974.47 1918.44,1017.33 1889.26,1050.53 1601.66,1068 1466.89,1074.41"/><polygon points="1467.09,1079.08 1453.56,1075.04 1466.67,1069.75 1467.09,1079.08"/>
<path d="M1924.77,867.76C1934.65,879.12 1948.44,897.31 1954.28,916 1962.73,943.05 1951.78,1009.76 1944.58,1017.33 1868.6,1097.33 1055.31,1140.84 861.72,1150.11"/><polygon points="861.91,1154.77 848.36,1150.75 861.47,1145.45 861.91,1154.77"/>
<path d="M1894.54,867.57C1876.14,878.8 1847.91,896.04 1826.29,909.24"/><polygon points="1828.09,913.6 1814.25,916.47 1823.27,905.6 1828.09,913.6"/>
<path d="M1910.89,867.51C1905.44,891.17 1892.88,945.77 1885.49,977.87"/><polygon points="1889.91,979.44 1882.09,991.21 1880.87,977.13 1889.91,979.44"/>
<path d="M644.16,643.39C597.68,653.13 532.97,669.23 479.19,692 260.73,784.45 -46.49,929.01 125.85,1092 173.47,1137.03 637.64,1148.81 779.52,1151.37"/><polygon points="779.72,1146.71 792.97,1151.6 779.56,1156.04 779.72,1146.71"/>
<path d="M707.52,643.51C711.47,667.17 720.61,721.77 725.97,753.87"/><polygon points="730.61,753.35 727.92,767.21 721.37,754.69 730.61,753.35"/>
<path d="M714.63,643.6C748.08,687.8 867.88,846.12 912.73,905.39"/><polygon points="916.56,902.71 920.88,916.16 909.12,908.33 916.56,902.71"/>
<path d="M683.36,643.57C661.12,655.12 626.67,673.01 601,686.33"/><polygon points="603.08,690.51 589.09,692.47 598.81,682.21 603.08,690.51"/>
<path d="M626.09,642.53C525.95,655.97 359.91,679.04 299.19,692 297.2,692.43 295.19,692.88 293.15,693.37"/><polygon points="293.93,697.99 279.85,696.85 291.57,688.96 293.93,697.99"/>
<path d="M522.31,569.23C520.55,578.76 518,592.48 515.8,604.41"/><polygon points="520.36,605.4 513.35,617.67 511.19,603.71 520.36,605.4"/>
<path d="M501.69,568.79C478.2,580.67 440.59,599.91 408.52,617.33 366.29,640.28 318.2,667.96 287.63,685.76"/><polygon points="289.92,689.84 276.04,692.52 285.21,681.77 289.92,689.84"/>
<path d="M553.24,568.75C583.23,580.64 630.49,599.41 664.48,612.91"/><polygon points="666.57,608.72 677.25,617.97 663.13,617.4 666.57,608.72"/>
</g>
</svg>
</body></html>
